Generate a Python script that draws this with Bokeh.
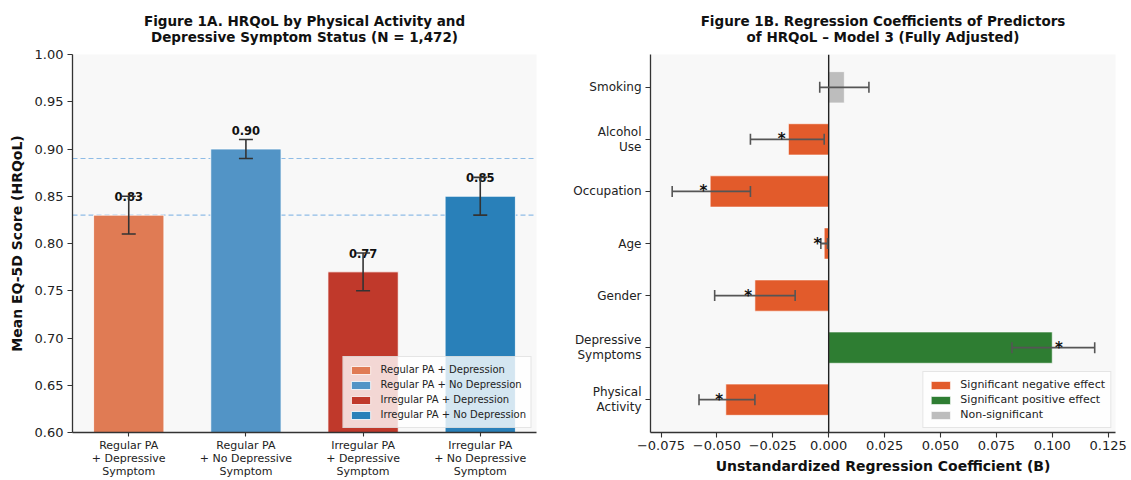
from bokeh.plotting import figure
from bokeh.models import (ColumnDataSource, Whisker, TeeHead, Span, FixedTicker,
                          Range1d, CustomJSTickFormatter)
from bokeh.layouts import row
from bokeh.embed import file_html
from bokeh.resources import INLINE
from bokeh.core.properties import value

FONT = "DejaVu Sans"

# ---------------- Figure 1A data ----------------
groups = ["Regular PA + Depression", "Regular PA + No Depression",
          "Irregular PA + Depression", "Irregular PA + No Depression"]
group_ticks = ["Regular PA\n+ Depressive\nSymptom", "Regular PA\n+ No Depressive\nSymptom",
               "Irregular PA\n+ Depressive\nSymptom", "Irregular PA\n+ No Depressive\nSymptom"]
mean_eq5d = [0.83, 0.90, 0.77, 0.85]
ci_low = [0.81, 0.89, 0.75, 0.83]
ci_high = [0.85, 0.91, 0.79, 0.87]
ref_lines = [0.89, 0.83]
bar_colors = ["#E07B54", "#5294C6", "#C0392B", "#2980B9"]
y_ticks_a = [0.60, 0.65, 0.70, 0.75, 0.80, 0.85, 0.90, 0.95, 1.00]
title_a = "Figure 1A. HRQoL by Physical Activity and\nDepressive Symptom Status (N = 1,472)"

# ---------------- Figure 1B data ----------------
predictors = ["Physical\nActivity", "Depressive\nSymptoms", "Gender", "Age",
              "Occupation", "Alcohol\nUse", "Smoking"]
coef_b = [-0.046, 0.100, -0.033, -0.002, -0.053, -0.018, 0.007]
coef_low = [-0.058, 0.082, -0.051, -0.0035, -0.070, -0.035, -0.004]
coef_high = [-0.033, 0.119, -0.015, -0.0005, -0.035, -0.002, 0.018]
significant = [True, True, True, True, True, True, False]
x_ticks_b = [-0.075, -0.050, -0.025, 0.000, 0.025, 0.050, 0.075, 0.100, 0.125]
effect_colors = {"Significant negative effect": "#E25B2B",
                 "Significant positive effect": "#2E7D32",
                 "Non-significant": "#BDBDBD"}
title_b = "Figure 1B. Regression Coefficients of Predictors\nof HRQoL \u2013 Model 3 (Fully Adjusted)"


def style_axes(p):
    p.background_fill_color = "#F8F8F8"
    p.border_fill_color = "white"
    p.outline_line_color = None
    p.xgrid.visible = False
    p.ygrid.visible = False
    for ax in (p.xaxis[0], p.yaxis[0]):
        ax.axis_line_color = "#333333"
        ax.axis_line_width = 1.3
        ax.major_tick_line_color = "#333333"
        ax.major_tick_line_width = 1.1
        ax.major_tick_out = 5
        ax.major_tick_in = 0
        ax.minor_tick_line_color = None
        ax.major_label_text_font = FONT
        ax.major_label_text_color = "#222222"
        ax.axis_label_text_font = FONT
        ax.axis_label_text_font_style = "bold"
        ax.axis_label_text_font_size = "14px"
        ax.axis_label_text_color = "#111111"
    t = p.title
    t.align = "center"
    t.text_align = "center"
    t.text_font = FONT
    t.text_font_style = "bold"
    t.text_font_size = "13.5px"
    t.text_color = "#111111"
    t.text_line_height = 1.0
    t.standoff = 20


def style_legend(leg, size):
    leg.location = "bottom_right"
    leg.margin = 4
    leg.padding = 5
    leg.spacing = 0
    leg.label_height = 15
    leg.glyph_height = 10
    leg.glyph_width = 24
    leg.label_standoff = 8
    leg.label_text_font = FONT
    leg.label_text_font_size = size
    leg.label_text_color = "#222222"
    leg.background_fill_color = "white"
    leg.background_fill_alpha = 0.8
    leg.border_line_color = "#CCCCCC"
    leg.border_line_width = 1


# ---------------- Figure 1A ----------------
xs = list(range(len(groups)))
src_a = ColumnDataSource(dict(
    x=xs, top=mean_eq5d, lo=ci_low, hi=ci_high, color=bar_colors, group=groups,
    lab_y=[m + 0.015 for m in mean_eq5d], lab=[f"{m:.2f}" for m in mean_eq5d]))

p1 = figure(width=556, height=480, x_range=Range1d(-0.48, 3.48), y_range=Range1d(0.6, 1.0),
            output_backend="svg", toolbar_location=None, title=title_a,
            min_border_left=72, min_border_right=20, min_border_top=54, min_border_bottom=45)
style_axes(p1)

for v in ref_lines:
    p1.add_layout(Span(location=v, dimension="width", line_color="#8FBCE6",
                       line_dash="5 3", line_width=1.1, level="underlay"))

p1.vbar(x="x", top="top", bottom=0.6, width=0.6, source=src_a, fill_color="color",
        line_color="white", line_width=0.8, legend_field="group")

wa = Whisker(base="x", upper="hi", lower="lo", source=src_a, dimension="height",
             line_color="#333333", line_width=1.6, level="annotation",
             upper_head=TeeHead(size=14, line_color="#333333", line_width=1.6),
             lower_head=TeeHead(size=14, line_color="#333333", line_width=1.6))
p1.add_layout(wa)

p1.text(x="x", y="lab_y", text="lab", source=src_a, text_align="center", text_baseline="bottom",
        text_font=value(FONT), text_font_style="bold", text_font_size="11.5px", text_color="#111111")

p1.xaxis.ticker = FixedTicker(ticks=xs)
p1.xaxis.major_label_overrides = {i: t for i, t in zip(xs, group_ticks)}
p1.xaxis.major_label_text_font_size = "11px"
p1.xaxis.major_label_text_line_height = 1.0
p1.xaxis.major_tick_out = 4
p1.xaxis.major_label_standoff = 2
p1.yaxis.ticker = FixedTicker(ticks=y_ticks_a)
p1.yaxis.major_label_overrides = {t: f"{t:.2f}" for t in y_ticks_a}
p1.yaxis.major_label_text_font_size = "13px"
p1.yaxis.major_label_standoff = 4
p1.yaxis.axis_label = "Mean EQ-5D Score (HRQoL)"
p1.yaxis.axis_label_standoff = 7

style_legend(p1.legend[0], "10px")

# ---------------- Figure 1B ----------------
ys = list(range(len(predictors)))
effects = []
for b, s in zip(coef_b, significant):
    if not s:
        effects.append("Non-significant")
    elif b < 0:
        effects.append("Significant negative effect")
    else:
        effects.append("Significant positive effect")
star_x = [(b - 0.003) if b < 0 else (b + 0.003) for b in coef_b]
src_b = ColumnDataSource(dict(
    y=ys, b=coef_b, lo=coef_low, hi=coef_high, effect=effects,
    color=[effect_colors[e] for e in effects]))
src_star = ColumnDataSource(dict(
    x=[sx for sx, s in zip(star_x, significant) if s],
    y=[y for y, s in zip(ys, significant) if s],
    t=["*" for s in significant if s]))

p2 = figure(width=574, height=480, x_range=Range1d(-0.0797, 0.1283), y_range=Range1d(-0.63, 6.63),
            output_backend="svg", toolbar_location=None, title=title_b,
            min_border_left=94, min_border_right=15, min_border_top=54, min_border_bottom=45)
style_axes(p2)

p2.hbar(y="y", right="b", left=0, height=0.6, source=src_b, fill_color="color",
        line_color="white", line_width=0.6, legend_field="effect")

p2.add_layout(Span(location=0, dimension="height", line_color="#222222", line_width=1.4))

wb = Whisker(base="y", upper="hi", lower="lo", source=src_b, dimension="width",
             line_color="#555555", line_width=1.8, level="annotation",
             upper_head=TeeHead(size=11, line_color="#555555", line_width=1.6),
             lower_head=TeeHead(size=11, line_color="#555555", line_width=1.6))
p2.add_layout(wb)

r_star = p2.text(x="x", y="y", text="t", source=src_star, text_align="center",
                 text_baseline="middle", text_font=value(FONT), text_font_style="bold",
                 text_font_size="15px", text_color="#111111")
r_star.level = "overlay"

p2.yaxis.ticker = FixedTicker(ticks=ys)
p2.yaxis.major_label_overrides = {i: t for i, t in zip(ys, predictors)}
p2.yaxis.major_label_text_font_size = "12px"
p2.yaxis.major_label_text_line_height = 1.1
p2.yaxis.major_label_standoff = 4
p2.xaxis.ticker = FixedTicker(ticks=x_ticks_b)
p2.xaxis.formatter = CustomJSTickFormatter(
    code="return (tick < 0 ? '\u2212' : '') + Math.abs(tick).toFixed(3);")
p2.xaxis.major_label_text_font_size = "13px"
p2.xaxis.major_label_standoff = 3
p2.xaxis.axis_label = "Unstandardized Regression Coefficient (B)"
p2.xaxis.axis_label_standoff = 5

style_legend(p2.legend[0], "11px")

layout = row(p1, p2)
open("out.html", "w").write(file_html(layout, INLINE))
